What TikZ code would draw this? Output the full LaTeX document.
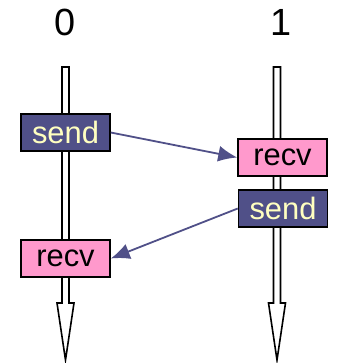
\documentclass[tikz,border=0pt]{standalone}
\usepackage{fontspec}
\setmainfont{Liberation Sans}
\usetikzlibrary{arrows.meta}
\definecolor{msgblue}{HTML}{505088}
\definecolor{recvpink}{HTML}{FF99CC}
\definecolor{sendtext}{HTML}{FFFFC0}
\tikzset{%
  opbox/.style    = {shape=rectangle, draw=black, line width=1.5bp,%
                     minimum width=89bp, minimum height=37bp,%
                     inner sep=1bp, font=\fontsize{31}{31}\selectfont},%
  sendbox/.style  = {opbox, fill=msgblue, text=sendtext},%
  recvbox/.style  = {opbox, fill=recvpink, text=black},%
  rank/.style     = {font=\fontsize{38}{38}\selectfont},%
  timeline/.style = {draw=black, fill=white, line width=1.6bp, line join=miter},%
  msg/.style      = {draw=msgblue, line width=1.8bp,%
                     -{Latex[length=19bp,width=16bp]}}%
}

\begin{document}
\begin{tikzpicture}[x=1bp,y=1bp]
  \useasboundingbox (0,0) rectangle (338,363);
  % ranks
  \node[rank] (p0) at (65,341) {0};
  \node[rank] (p1) at (281,341) {1};
  % time lines
  \draw[timeline] (62,296) -- (62,60) -- (57,60) -- (65.5,3) -- (74,60)
    -- (69,60) -- (69,296) -- cycle;
  \draw[timeline] (273.5,296) -- (273.5,60) -- (268.5,60) -- (277,3)
    -- (285.5,60) -- (280.5,60) -- (280.5,296) -- cycle;
  % operations
  \node[sendbox] (send0) at (65.5,230.5) {send};
  \node[recvbox] (recv1) at (282.5,205.5) {recv};
  \node[sendbox] (send1) at (283,154.5) {send};
  \node[recvbox] (recv0) at (65.5,104.5) {recv};
  % messages
  \draw[msg] (send0.east) -- (recv1.west);
  \draw[msg] (send1.west) -- (recv0.east);
\end{tikzpicture}
\end{document}
